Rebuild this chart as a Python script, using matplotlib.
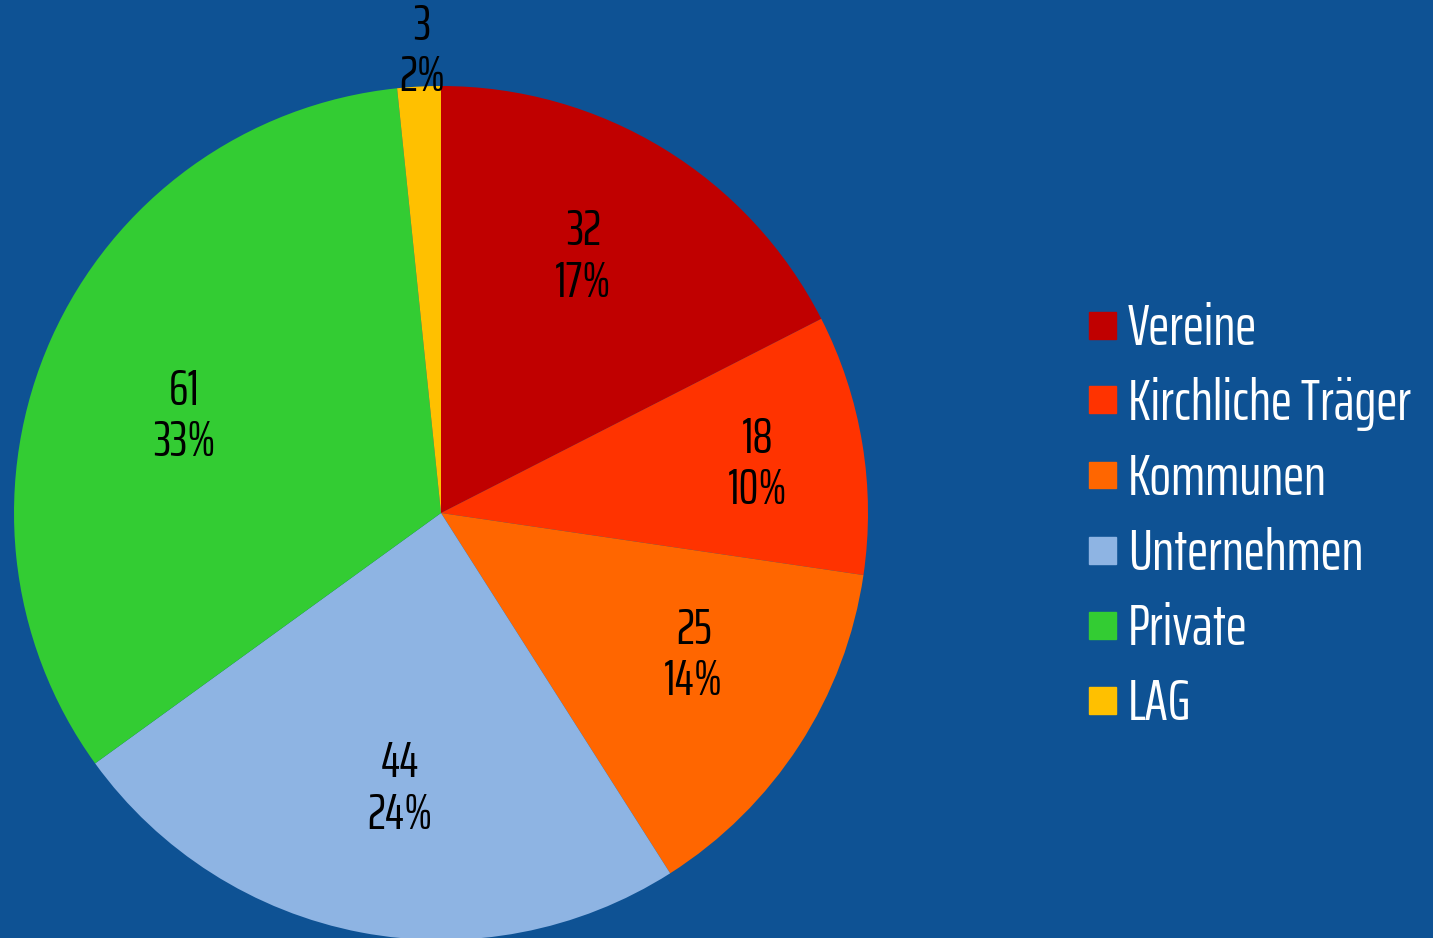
import matplotlib.pyplot as plt
import numpy as np

# data
labels = ["Vereine", "Kirchliche Träger", "Kommunen", "Unternehmen", "Private", "LAG"]
values = [32, 18, 25, 44, 61, 3]
colors = ["#C00000", "#FF3300", "#FF6600", "#8EB4E3", "#33CC33", "#FFC000"]
# label placement (radius in pie units, angle tweak in degrees)
label_r = [0.685, 0.75, 0.68, 0.655, 0.642, 1.08]
label_da = [2.4, -0.7, 3.5, 2.3, 3.6, -0.6]

BG = "#0E5294"
FONT = ["Saira ExtraCondensed", "DejaVu Sans"]

W, H = 1433, 938
fig = plt.figure(figsize=(W / 100, H / 100), dpi=100, facecolor=BG)

cx, cy, R = 441, 513, 427
ax = fig.add_axes([(cx - R) / W, (H - cy - R) / H, 2 * R / W, 2 * R / H])
ax.set_facecolor(BG)

wedges, _ = ax.pie(values, colors=colors, startangle=90, counterclock=False,
                   radius=1, wedgeprops=dict(linewidth=0))
ax.set_xlim(-1, 1)
ax.set_ylim(-1, 1)
ax.set_aspect("equal")
ax.axis("off")

total = sum(values)
for w, v, r, da in zip(wedges, values, label_r, label_da):
    ang = np.deg2rad((w.theta1 + w.theta2) / 2 + da)
    pct = int(round(v / total * 100))
    ax.text(r * np.cos(ang), r * np.sin(ang), "%d\n%d%%" % (v, pct),
            ha="center", va="center", fontsize=36, family=FONT,
            color="black", linespacing=1.12, clip_on=False)

# legend drawn by hand
for i, (lab, c) in enumerate(zip(labels, colors)):
    y = 325 + i * 75
    fig.patches.append(plt.Rectangle((1089 / W, (H - y - 13.5) / H), 27 / W, 27 / H,
                                     transform=fig.transFigure, color=c))
    fig.text(1128 / W, (H - y - 20) / H, lab, ha="left", va="baseline",
             fontsize=41, family=FONT, color="white")

fig.savefig("out.png", dpi=100, facecolor=BG)
